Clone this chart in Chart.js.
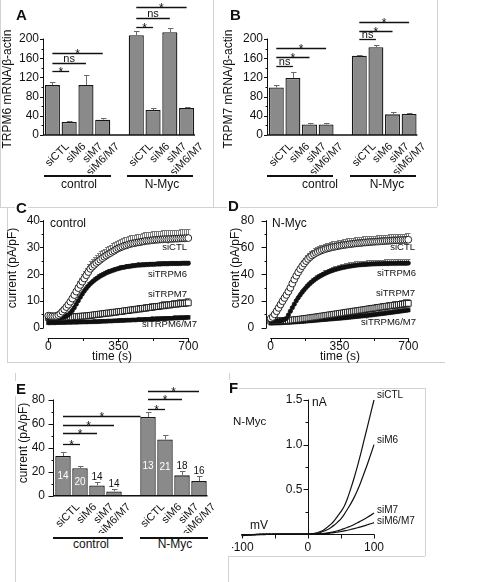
<!DOCTYPE html>
<html lang="en"><head><meta charset="utf-8"><title>TRPM6 / TRPM7 figure</title>
<script src="https://cdn.jsdelivr.net/npm/chart.js@4.4.1/dist/chart.umd.min.js"></script>
<style>
html,body{margin:0;padding:0;background:#fff;}
body{width:485px;height:582px;position:relative;overflow:hidden;font-family:"Liberation Sans",Arial,Helvetica,sans-serif;color:#111;}
canvas{position:absolute;}
.t{position:absolute;white-space:nowrap;font-size:12px;line-height:1;transform:translate(-50%,-50%);}
.r{transform:translate(-50%,-50%) rotate(-90deg);}
.lt{transform:translate(0,-50%);}
.rt{transform:translate(-100%,-50%);}
.s{font-size:9.5px;}
.m{font-size:10px;}
.L{position:absolute;font-weight:bold;font-size:15px;line-height:1;background:#fff;padding:0 1px;}
.bh{position:absolute;height:1px;background:#d2d2d2;}
.bv{position:absolute;width:1px;background:#d2d2d2;}
.gl{position:absolute;height:1.5px;background:#111;}
</style></head>
<body>
<!-- panel frames -->
<div class="bv" style="left:0;top:0;height:207px"></div>
<div class="bv" style="left:213px;top:0;height:207px"></div>
<div class="bv" style="left:437px;top:0;height:207px"></div>
<div class="bh" style="left:0;top:207px;width:437px"></div>
<div class="bv" style="left:7px;top:207px;height:155px"></div>
<div class="bh" style="left:7px;top:362px;width:438px"></div>
<div class="bv" style="left:15px;top:373px;height:209px"></div>
<div class="bv" style="left:229px;top:373px;height:10px"></div>
<div class="bh" style="left:238px;top:388px;width:187px"></div>
<div class="bv" style="left:425px;top:388px;height:168px"></div>
<div class="bh" style="left:228px;top:556px;width:197px"></div>
<div class="bv" style="left:228px;top:556px;height:26px"></div>

<canvas id="cA" width="213" height="174" style="left:0;top:0"></canvas>
<canvas id="cB" width="213" height="174" style="left:224px;top:0"></canvas>
<canvas id="cC" width="225" height="150" style="left:0;top:210px"></canvas>
<canvas id="cD" width="225" height="150" style="left:222px;top:210px"></canvas>
<canvas id="cE" width="210" height="150" style="left:10px;top:383px"></canvas>
<canvas id="cF" width="190" height="162" style="left:232px;top:392px"></canvas>

<!-- panel letters -->
<div class="L" style="left:15px;top:7px">A</div>
<div class="L" style="left:229px;top:7px">B</div>
<div class="L" style="left:15px;top:200px">C</div>
<div class="L" style="left:227px;top:198px">D</div>
<div class="L" style="left:15px;top:381px">E</div>
<div class="L" style="left:228px;top:380px">F</div>

<!-- axis titles -->
<div class="t r" style="left:7px;top:89px">TRPM6 mRNA/β-actin</div>
<div class="t r" style="left:228px;top:89px">TRPM7 mRNA/β-actin</div>
<div class="t r" style="left:12px;top:268px">current (pA/pF)</div>
<div class="t r" style="left:235px;top:268px">current (pA/pF)</div>
<div class="t r" style="left:23px;top:443px">current (pA/pF)</div>
<div class="t" style="left:112px;top:356px">time (s)</div>
<div class="t" style="left:340px;top:356px">time (s)</div>

<!-- group labels -->
<div class="gl" style="left:44px;top:175px;width:67px"></div>
<div class="gl" style="left:127px;top:175px;width:66px"></div>
<div class="t" style="left:79px;top:184px">control</div>
<div class="t" style="left:162px;top:184px">N-Myc</div>
<div class="gl" style="left:267px;top:175px;width:66px"></div>
<div class="gl" style="left:350px;top:175px;width:66px"></div>
<div class="t" style="left:320px;top:184px">control</div>
<div class="t" style="left:387px;top:184px">N-Myc</div>
<div class="gl" style="left:53px;top:537px;width:70px"></div>
<div class="gl" style="left:140px;top:537px;width:68px"></div>
<div class="t" style="left:91px;top:544px">control</div>
<div class="t" style="left:175px;top:544px">N-Myc</div>

<!-- C / D annotations -->
<div class="t lt" style="left:50px;top:223px">control</div>
<div class="t rt s" style="left:187px;top:247px">siCTL</div>
<div class="t rt s" style="left:187px;top:274px">siTRPM6</div>
<div class="t rt s" style="left:187px;top:294px">siTRPM7</div>
<div class="t rt s" style="left:197px;top:324px">siTRPM6/M7</div>
<div class="t lt" style="left:272px;top:223px">N-Myc</div>
<div class="t rt s" style="left:415px;top:247px">siCTL</div>
<div class="t rt s" style="left:416px;top:273px">siTRPM6</div>
<div class="t rt s" style="left:415px;top:293px">siTRPM7</div>
<div class="t rt s" style="left:416px;top:322px">siTRPM6/M7</div>

<!-- F annotations -->
<div class="t lt" style="left:233px;top:422px;font-size:11.5px">N-Myc</div>
<div class="t lt" style="left:312px;top:402px">nA</div>
<div class="t" style="left:259px;top:525px">mV</div>
<div class="t lt m" style="left:377px;top:395px">siCTL</div>
<div class="t lt m" style="left:377px;top:440px">siM6</div>
<div class="t lt m" style="left:377px;top:510px">siM7</div>
<div class="t lt m" style="left:377px;top:521px">siM6/M7</div>

<script>
// ================= DATA =================
const barCats = ['siCTL','siM6','siM7','siM6/M7','','siCTL','siM6','siM7','siM6/M7'];

// A: TRPM6 mRNA / beta-actin
const trpm6Control    = [104, 27, 104, 32];
const trpm6ControlSem = [6, 2, 21, 3];
const trpm6NMyc       = [208, 52, 214, 56];
const trpm6NMycSem    = [9, 4, 8, 3];
// B: TRPM7 mRNA / beta-actin
const trpm7Control    = [99, 119, 22, 22];
const trpm7ControlSem = [6, 12, 2, 2];
const trpm7NMyc       = [165, 183, 43, 44];
const trpm7NMycSem    = [1, 4, 4, 1];
// E: current density (pA/pF)
const curControl    = [33.2, 23, 8.6, 3.6];
const curControlSem = [3.6, 2, 3.1, 2.2];
const curNMyc       = [65.8, 47, 17, 12.2];
const curNMycSem    = [4.2, 4, 3.5, 4.2];
const nControl = [14, 20, 14, 14];
const nNMyc    = [13, 21, 18, 16];

const mrnaTicks = [0, 40, 80, 120, 160, 200];
const mrnaMinor = [20, 60, 100, 140, 180];
const curTicks  = [0, 20, 40, 60, 80];
const curMinor  = [10, 30, 50, 70];

// significance bars: [fromIndex, toIndex, level, text, endAtBarEdge]
const sigA = [[0,1,133,'*'],[0,2,150,'ns'],[0,3,171,'*'],[5,6,225,'*'],[5,7,244,'ns'],[5,8,267,'*']];
const sigB = [[0,1,144,'ns'],[0,2,163,'*'],[0,3,181,'*'],[5,6,199,'ns'],[5,7,217,'*'],[5,8,235,'*']];
const sigE = [[0,1,43,'*'],[0,2,52.2,'*'],[0,3,59,'*'],[0,5,66.9,'*',true],[5,6,72.2,'*'],[5,7,80.6,'*'],[5,8,87.8,'*']];

// C / D time courses (s)
const times = [0,10,20,30,40,50,60,70,80,90,100,110,120,130,140,150,160,170,180,190,200,210,220,230,240,250,260,270,280,290,300,310,320,330,340,350,360,370,380,390,400,410,420,430,440,450,460,470,480,490,500,510,520,530,540,550,560,570,580,590,600,610,620,630,640,650,660,670,680,690,700];
const timeTicks = [0, 350, 700];
const timeMinor = [175, 525];

const ctlSiCTL = [4.5,4.4,4.3,4.3,4.4,4.7,5.2,6.0,6.8,7.7, 8.6,9.7,10.9,12.2,13.5,14.8,16.0,17.2,18.4,19.6, 20.8,22.0,22.8,23.5,24.2,24.8,25.4,26.0,26.5,27.0, 27.5,27.9,28.4,28.8,29.3,29.7,30.0,30.3,30.6,30.8, 31.1,31.3,31.5,31.6,31.8,31.9,32.0,32.2,32.3,32.5, 32.5,32.6,32.7,32.8,32.9,32.9,33.0,33.0,33.1,33.1, 33.1,33.2,33.2,33.3,33.3,33.3,33.4,33.4,33.4,33.5,33.5];
const ctlSiCTLSem = [0.6,0.6,0.6,0.6,0.6,0.7,0.8,1.0,1.2,1.4, 1.6,1.8,2.0,2.2,2.4,2.5,2.6,2.7,2.8,2.9, 2.9,3.0,3.0,3.1,3.0,3.1,3.1,3.0,3.1,3.1, 3.0,3.1,3.1,3.1,3.1,3.1,3.2,3.1,3.2,3.2, 3.2,3.2,3.2,3.2,3.2,3.3,3.2,3.3,3.3,3.3, 3.3,3.3,3.3,3.3,3.3,3.3,3.3,3.4,3.3,3.4, 3.4,3.3,3.4,3.4,3.4,3.4,3.4,3.4,3.4,3.4,3.4];
const ctlSiM6 = [3.6,3.5,3.5,3.5,3.5,3.6,3.7,3.8,4.0,4.3, 4.8,5.5,6.4,7.5,8.8,10.1,11.4,12.6,13.7,14.7, 15.6,16.4,17.1,17.7,18.3,18.8,19.3,19.7,20.1,20.5, 20.8,21.1,21.4,21.6,21.9,22.1,22.3,22.5,22.6,22.8, 22.9,23.0,23.1,23.2,23.3,23.4,23.4,23.5,23.5,23.6, 23.6,23.7,23.7,23.7,23.8,23.8,23.8,23.9,23.9,23.9, 23.9,24.0,24.0,24.0,24.0,24.0,24.0,24.1,24.1,24.1,24.1];
const ctlSiM6Sem = [0.4,0.4,0.4,0.4,0.4,0.4,0.4,0.5,0.5,0.6, 0.7,0.8,0.9,1.0,1.1,1.2,1.2,1.3,1.3,1.3, 1.3,1.2,1.2,1.2,1.1,1.1,1.1,1.1,1.0,1.0, 1.0,0.9,1.0,1.0,0.9,1.0,1.0,0.9,1.0,1.0, 0.9,1.0,1.0,0.9,1.0,1.0,0.9,1.0,1.0,1.0, 0.9,1.0,1.0,1.0,0.9,1.0,1.0,1.0,0.9,1.0, 1.0,0.9,1.0,1.0,1.0,0.9,1.0,1.0,1.0,0.9,1.0];
const ctlSiM7 = [3.8,3.8,3.7,3.8,3.9,3.8,3.9,4.0,3.9,4.0, 4.0,4.1,4.0,4.1,4.2,4.1,4.3,4.3,4.4,4.4, 4.5,4.6,4.7,4.8,4.9,5.0,5.1,5.2,5.3,5.4, 5.5,5.5,5.7,5.8,5.8,6.0,6.1,6.1,6.3,6.4, 6.4,6.6,6.7,6.7,6.9,7.0,7.0,7.2,7.3,7.3, 7.5,7.6,7.6,7.8,7.9,7.9,8.1,8.2,8.2,8.4, 8.5,8.5,8.7,8.8,8.8,8.9,9.0,9.1,9.1,9.2,9.3];
const ctlSiM7Sem = [0.5,0.5,0.5,0.5,0.5,0.5,0.5,0.5,0.6,0.6, 0.6,0.6,0.6,0.6,0.7,0.7,0.7,0.7,0.7,0.8, 0.8,0.8,0.8,0.9,0.9,0.9,0.9,1.0,1.0,1.0, 1.0,1.0,1.1,1.1,1.1,1.1,1.2,1.2,1.2,1.2, 1.2,1.3,1.3,1.3,1.3,1.3,1.4,1.4,1.4,1.4, 1.4,1.5,1.5,1.5,1.5,1.5,1.5,1.6,1.6,1.6, 1.6,1.6,1.6,1.7,1.7,1.7,1.7,1.7,1.7,1.8,1.8];
const ctlSiM6M7 = [1.8,1.8,1.9,1.8,1.9,1.9,1.9,2.0,1.9,2.0, 2.0,2.0,2.0,2.1,2.0,2.1,2.1,2.1,2.2,2.1, 2.2,2.2,2.2,2.3,2.2,2.3,2.3,2.4,2.4,2.4, 2.5,2.5,2.5,2.6,2.6,2.6,2.7,2.7,2.7,2.8, 2.8,2.8,2.9,2.9,2.9,3.0,3.0,3.0,3.1,3.1, 3.1,3.2,3.2,3.2,3.3,3.3,3.3,3.4,3.4,3.4, 3.5,3.5,3.5,3.6,3.6,3.6,3.7,3.7,3.7,3.8,3.8];
const ctlSiM6M7Sem = [0.7,0.7,0.8,0.7,0.7,0.8,0.7,0.7,0.8,0.7, 0.7,0.8,0.7,0.7,0.8,0.7,0.7,0.8,0.7,0.8, 0.8,0.7,0.8,0.8,0.7,0.8,0.8,0.7,0.8,0.8, 0.8,0.8,0.9,0.8,0.8,0.9,0.8,0.8,0.9,0.8, 0.9,0.8,0.9,0.9,0.8,0.9,0.9,0.8,0.9,0.9, 0.9,0.9,1.0,0.9,0.9,1.0,0.9,1.0,1.0,0.9, 1.0,1.0,0.9,1.0,1.0,1.0,1.0,0.9,1.0,1.0,1.0];

const mycSiCTL = [7.0,8.0,10.0,12.3,14.8,17.3,19.8,22.2,24.5,27.0, 29.8,33.0,36.0,38.8,41.4,43.8,46.0,48.0,49.8,51.4, 52.8,54.0,55.0,55.9,56.6,57.3,57.9,58.4,58.9,59.3, 59.7,60.1,60.4,60.7,61.0,61.3,61.5,61.8,62.0,62.2, 62.4,62.6,62.8,63.0,63.1,63.3,63.4,63.6,63.7,63.8, 64.0,64.1,64.2,64.3,64.4,64.5,64.6,64.7,64.8,64.9, 65.0,65.1,65.2,65.3,65.3,65.4,65.5,65.6,65.6,65.7,65.8];
const mycSiCTLSem = [1.0,1.2,1.5,1.8,2.1,2.4,2.7,3.0,3.2,3.4, 3.6,3.8,3.9,4.0,4.0,4.1,4.1,4.1,4.2,4.2, 4.2,4.2,4.3,4.2,4.3,4.3,4.3,4.3,4.4,4.3, 4.4,4.4,4.3,4.4,4.4,4.4,4.4,4.5,4.4,4.5, 4.5,4.4,4.5,4.5,4.5,4.5,4.5,4.6,4.5,4.6, 4.6,4.5,4.6,4.6,4.6,4.6,4.6,4.6,4.7,4.6, 4.7,4.7,4.6,4.7,4.7,4.7,4.7,4.7,4.7,4.8,4.8];
const mycSiM6 = [4.8,4.8,4.9,4.9,5.0,5.2,5.6,6.2,7.0,9.5, 12.3,15.0,17.6,20.1,22.4,24.5,26.5,28.3,30.0,31.6, 33.0,34.3,35.5,36.6,37.6,38.5,39.3,40.1,40.8,41.5, 42.1,42.6,43.1,43.6,44.0,44.4,44.8,45.1,45.4,45.7, 46.0,46.2,46.4,46.6,46.8,47.0,47.1,47.2,47.3,47.4, 47.5,47.6,47.7,47.7,47.8,47.8,47.9,47.9,48.0,48.0, 48.0,48.1,48.1,48.1,48.1,48.2,48.2,48.2,48.2,48.2,48.3];
const mycSiM6Sem = [0.5,0.5,0.5,0.5,0.5,0.5,0.6,0.7,0.9,1.1, 1.3,1.5,1.7,1.9,2.0,2.1,2.2,2.3,2.4,2.4, 2.5,2.5,2.5,2.6,2.6,2.6,2.6,2.7,2.6,2.7, 2.7,2.7,2.7,2.7,2.8,2.7,2.8,2.8,2.8,2.8, 2.8,2.8,2.8,2.9,2.8,2.9,2.9,2.9,2.9,2.9, 2.9,2.9,2.9,3.0,2.9,3.0,3.0,3.0,3.0,3.0, 3.0,3.0,2.9,3.0,3.0,3.0,3.1,3.0,3.0,3.0,3.0];
const mycSiM7 = [5.0,5.0,5.1,5.0,5.1,5.2,5.2,5.3,5.4,5.4, 5.6,5.7,5.9,6.0,6.2,6.4,6.5,6.8,7.0,7.1, 7.4,7.5,7.8,8.0,8.1,8.4,8.7,8.8,9.1,9.3, 9.6,9.7,10.0,10.2,10.4,10.7,10.9,11.0,11.4,11.6, 11.8,11.9,12.3,12.5,12.6,12.9,13.2,13.3,13.6,13.8, 14.1,14.2,14.5,14.7,14.8,15.2,15.4,15.5,15.8,16.0, 16.2,16.3,16.6,16.8,16.9,17.2,17.4,17.5,17.8,18.0,18.2];
const mycSiM7Sem = [1.0,1.0,1.0,1.1,1.0,1.1,1.1,1.1,1.2,1.1, 1.2,1.2,1.2,1.3,1.3,1.3,1.4,1.4,1.4,1.5, 1.5,1.5,1.6,1.6,1.6,1.7,1.7,1.7,1.8,1.8, 1.8,1.9,1.9,1.9,2.0,2.0,2.0,2.1,2.1,2.1, 2.2,2.2,2.2,2.3,2.3,2.4,2.4,2.4,2.5,2.5, 2.5,2.6,2.6,2.7,2.7,2.7,2.8,2.8,2.9,2.9, 2.9,3.0,3.0,3.1,3.1,3.1,3.2,3.2,3.3,3.3,3.4];
const mycSiM6M7 = [3.3,3.4,3.4,3.5,3.5,3.6,3.7,3.8,3.9,3.9, 4.0,4.1,4.2,4.3,4.4,4.5,4.6,4.7,4.9,5.0, 5.1,5.2,5.4,5.5,5.6,5.8,5.9,6.0,6.1,6.3, 6.4,6.5,6.6,6.8,6.9,7.0,7.1,7.3,7.4,7.6, 7.7,7.9,8.0,8.2,8.3,8.5,8.6,8.8,8.9,9.1, 9.3,9.4,9.6,9.8,10.0,10.2,10.3,10.5,10.7,10.9, 11.1,11.3,11.5,11.7,11.9,12.1,12.3,12.5,12.7,12.9,13.1];
const mycSiM6M7Sem = [0.8,0.8,0.8,0.8,0.9,0.9,0.9,0.9,0.9,1.0, 1.0,1.0,1.0,1.0,1.1,1.1,1.1,1.1,1.2,1.2, 1.2,1.2,1.3,1.3,1.3,1.3,1.4,1.4,1.4,1.4, 1.5,1.5,1.5,1.5,1.6,1.6,1.6,1.7,1.7,1.7, 1.7,1.8,1.8,1.8,1.9,1.9,1.9,1.9,2.0,2.0, 2.0,2.1,2.1,2.1,2.1,2.2,2.2,2.2,2.3,2.3, 2.3,2.3,2.4,2.4,2.4,2.5,2.5,2.5,2.5,2.6,2.6];

const ctlCurTicks = [0, 10, 20, 30, 40];
const ctlCurMinor = [5, 15, 25, 35];
const mycCurTicks = [0, 20, 40, 60, 80];
const mycCurMinor = [10, 30, 50, 70];

// F: I-V relations, N-Myc cells (mV, nA)
const ivVoltage = [-100,-95,-90,-85,-80,-75,-70,-65,-60,-55,-50,-45,-40,-35,-30,-25,-20,-15,-10,-5,0,5,10,15,20,25,30,35,40,45,50,55,60,65,70,75,80,85,90,95,100];
const ivSiCTL = [-0.020,-0.016,-0.013,-0.011,-0.009,-0.008,-0.006,-0.006,-0.004,-0.005,-0.003,-0.003,-0.002,-0.002,-0.001,-0.001,-0.001,0,0,0, 0, 0.003,0.008,0.017,0.030,0.050,0.080,0.110,0.150,0.200,0.250,0.310,0.400,0.510,0.630,0.760,0.900,1.050,1.200,1.350,1.500];
const ivSiM6 = [-0.016,-0.013,-0.011,-0.009,-0.008,-0.006,-0.005,-0.004,-0.004,-0.003,-0.003,-0.002,-0.002,-0.001,-0.001,-0.001,0,0,0,0, 0, 0.002,0.005,0.010,0.020,0.033,0.050,0.073,0.100,0.133,0.170,0.220,0.280,0.340,0.410,0.490,0.580,0.680,0.780,0.890,1.000];
const ivSiM7 = [-0.012,-0.010,-0.008,-0.007,-0.006,-0.005,-0.004,-0.004,-0.003,-0.003,-0.002,-0.002,-0.001,-0.001,-0.001,0,0,0,0,0, 0, 0.001,0.002,0.003,0.005,0.008,0.012,0.018,0.026,0.036,0.048,0.060,0.075,0.090,0.107,0.125,0.145,0.165,0.187,0.210,0.235];
const ivSiM6M7 = [-0.010,-0.008,-0.007,-0.006,-0.005,-0.004,-0.004,-0.003,-0.003,-0.002,-0.002,-0.002,-0.001,-0.001,-0.001,0,0,0,0,0, 0, 0.001,0.001,0.002,0.003,0.005,0.008,0.012,0.016,0.022,0.028,0.035,0.042,0.050,0.060,0.070,0.080,0.091,0.103,0.115,0.128];
const ivXTicks = [-100, -50, 0, 50, 100];
const ivXLabels = [-100, 0, 100];
const ivYTicks = [0.5, 1.0, 1.5];
const ivYMinor = [0.25, 0.75, 1.25];

// ================= RENDERING =================
const FONT = "'Liberation Sans', Arial, Helvetica, sans-serif";
Chart.defaults.font.family = FONT;
Chart.defaults.color = '#111';

function P(v){ return Math.round(v) + 0.5; }
function seg(ctx, x1, y1, x2, y2){ ctx.beginPath(); ctx.moveTo(x1, y1); ctx.lineTo(x2, y2); ctx.stroke(); }
const base = { animation:false, responsive:false, events:[], plugins:{legend:{display:false}, tooltip:{enabled:false}} };

function barPlugin(o){
  return { id:'barDeco', afterDatasetsDraw(chart){
    const {ctx, chartArea:ca, scales:{x, y}} = chart;
    const vals = chart.data.datasets[0].data;
    ctx.save();
    ctx.strokeStyle = '#6a6a6a'; ctx.lineWidth = 1;
    vals.forEach((v, i) => {
      if (v == null) return;
      const cx = P(x.getPixelForValue(i));
      const yt = P(y.getPixelForValue(v + o.sem[i]));
      seg(ctx, cx, y.getPixelForValue(v), cx, yt);
      seg(ctx, cx - 2.5, yt, cx + 3, yt);
    });
    ctx.strokeStyle = '#111';
    const ax = P(ca.left - 1.2), y0 = y.getPixelForValue(0);
    seg(ctx, ax, y0, ax, y.getPixelForValue(o.ticks[o.ticks.length - 1]) - 0.5);
    o.ticks.forEach(v => { const yy = P(y.getPixelForValue(v)); seg(ctx, ax - o.tl, yy, ax, yy); });
    o.minor.forEach(v => { const yy = P(y.getPixelForValue(v)); seg(ctx, ax - 2, yy, ax, yy); });
    ctx.lineWidth = 1.6; seg(ctx, ax - 0.5, y0, ca.right, y0);
    ctx.fillStyle = '#111'; ctx.textAlign = 'center'; ctx.textBaseline = 'alphabetic';
    o.sig.forEach(([a, b, lvl, txt, edge]) => {
      const x1 = x.getPixelForValue(a);
      let x2 = x.getPixelForValue(b);
      if (edge) x2 -= 7.5;
      const yy = P(y.getPixelForValue(lvl));
      ctx.lineWidth = 1.3; seg(ctx, x1, yy, x2, yy);
      if (txt === '*') { ctx.font = '12px ' + FONT; ctx.fillText(txt, (x1 + x2) / 2, yy + 4); }
      else { ctx.font = '11px ' + FONT; ctx.fillText(txt, (x1 + x2) / 2, yy - 2); }
    });
    if (o.n) {
      ctx.font = '10px ' + FONT;
      vals.forEach((v, i) => {
        if (v == null) return;
        const cx = x.getPixelForValue(i);
        if (v > 20) { ctx.fillStyle = '#fff'; ctx.textBaseline = 'middle'; ctx.fillText(String(o.n[i]), cx, y.getPixelForValue(Math.min(v * 0.5, 25))); }
        else { ctx.fillStyle = '#111'; ctx.textBaseline = 'alphabetic'; ctx.fillText(String(o.n[i]), cx, y.getPixelForValue(v + o.sem[i]) - 2); }
      });
    }
    ctx.restore();
  }};
}

function makeBar(id, ctl, myc, ctlSem, mycSem, c){
  const vals = [...ctl, null, ...myc];
  const sem = [...ctlSem, 0, ...mycSem];
  const n = c.nCtl ? [...c.nCtl, null, ...c.nMyc] : null;
  new Chart(document.getElementById(id), {
    type:'bar',
    data:{ labels: barCats, datasets:[{ data: vals, backgroundColor:'#8a8a8a', borderColor:'#161616', borderWidth:1.3, barPercentage:c.bp, categoryPercentage:1 }] },
    options:{ ...base, layout:{ padding:c.pad },
      scales:{
        x:{ grid:{display:false, drawTicks:false}, border:{display:false},
            ticks:{ autoSkip:false, minRotation:45, maxRotation:45, padding:5, labelOffset:15, font:{size:11} },
            afterFit(s){ s.height = c.xH; s.paddingLeft = 0; s.paddingRight = 0; } },
        y:{ min:0, max:c.yMax, grid:{display:false, drawTicks:false}, border:{display:false},
            ticks:{ padding:c.yPad, font:{size:12} },
            afterBuildTicks(s){ s.ticks = c.ticks.map(v => ({value:v})); },
            afterFit(s){ s.width = c.yW; s.paddingTop = 0; s.paddingBottom = 0; } }
      } },
    plugins:[ barPlugin({ sem, ticks:c.ticks, minor:c.minor, tl:c.tl, sig:c.sig, n }) ]
  });
}

makeBar('cA', trpm6Control, trpm6NMyc, trpm6ControlSem, trpm6NMycSem,
  { pad:{left:0, top:1, right:18, bottom:0}, xH:39, yW:44, yMax:279.2, yPad:5, ticks:mrnaTicks, minor:mrnaMinor, tl:3.5, sig:sigA, bp:0.9 });
makeBar('cB', trpm7Control, trpm7NMyc, trpm7ControlSem, trpm7NMycSem,
  { pad:{left:0, top:1, right:19.6, bottom:0}, xH:39, yW:44, yMax:279.2, yPad:5, ticks:mrnaTicks, minor:mrnaMinor, tl:3.5, sig:sigB, bp:0.9 });
makeBar('cE', curControl, curNMyc, curControlSem, curNMycSem,
  { pad:{left:0, top:3, right:12.5, bottom:0}, xH:37.3, yW:44.5, yMax:91.7, yPad:9.5, ticks:curTicks, minor:curMinor, tl:5, sig:sigE, bp:0.91, nCtl:nControl, nMyc:nNMyc });

const xy = (xs, ys) => xs.map((x, i) => ({x, y: ys[i]}));
function timePlugin(o){
  return { id:'timeDeco',
    beforeDatasetsDraw(chart){
      const {ctx, scales:{x, y}} = chart;
      ctx.save(); ctx.strokeStyle = '#707070'; ctx.lineWidth = 0.9;
      o.sems.forEach((sem, k) => {
        const vals = o.series[k];
        times.forEach((t, i) => {
          const cx = P(x.getPixelForValue(t));
          const y1 = y.getPixelForValue(vals[i]), y2 = P(y.getPixelForValue(vals[i] + sem[i]));
          seg(ctx, cx, y1, cx, y2); seg(ctx, cx - 1.5, y2, cx + 2, y2);
        });
      });
      ctx.restore();
    },
    afterDatasetsDraw(chart){
      const {ctx, chartArea:ca, scales:{x, y}} = chart;
      ctx.save(); ctx.strokeStyle = '#111'; ctx.lineWidth = 1;
      const ax = P(ca.left - o.yOff);
      seg(ctx, ax, y.getPixelForValue(0) + 0.5, ax, y.getPixelForValue(o.yTicks[o.yTicks.length - 1]) - 0.5);
      o.yTicks.forEach(v => { const yy = P(y.getPixelForValue(v)); seg(ctx, ax - o.tl, yy, ax, yy); });
      o.yMinor.forEach(v => { const yy = P(y.getPixelForValue(v)); seg(ctx, ax - 2, yy, ax, yy); });
      const ay = P(ca.bottom + o.xOff);
      seg(ctx, x.getPixelForValue(0) - 0.5, ay, x.getPixelForValue(700) + 0.5, ay);
      timeTicks.forEach(v => { const xx = P(x.getPixelForValue(v)); seg(ctx, xx, ay, xx, ay + 4); });
      timeMinor.forEach(v => { const xx = P(x.getPixelForValue(v)); seg(ctx, xx, ay, xx, ay + 2.5); });
      ctx.restore();
    }
  };
}
function makeTime(id, series, sems, c){
  const styles = [
    { pointStyle:'circle', pointRadius:3.4, pointBackgroundColor:'#fff', pointBorderColor:'#111', pointBorderWidth:0.9 },
    { pointStyle:'circle', pointRadius:2.2, pointBackgroundColor:'#111', pointBorderColor:'#111', pointBorderWidth:0.6 },
    { pointStyle:'rect', pointRadius:4.1, pointBackgroundColor:'#fff', pointBorderColor:'#111', pointBorderWidth:0.9 },
    { pointStyle:'rect', pointRadius:2.6, pointBackgroundColor:'#111', pointBorderColor:'#111', pointBorderWidth:0.5 }
  ];
  new Chart(document.getElementById(id), {
    type:'scatter',
    data:{ datasets: series.map((s, k) => ({ data: xy(times, s), showLine:false, clip:false, ...styles[k] })) },
    options:{ ...base, layout:{ padding:c.pad },
      scales:{
        x:{ type:'linear', min:0, max:700, grid:{display:false, drawTicks:false}, border:{display:false},
            ticks:{ padding:12, font:{size:12}, maxRotation:0 },
            afterBuildTicks(s){ s.ticks = timeTicks.map(v => ({value:v})); },
            afterFit(s){ s.height = c.xH; s.paddingLeft = 0; s.paddingRight = 0; } },
        y:{ min:0, max:c.yMax, grid:{display:false, drawTicks:false}, border:{display:false},
            ticks:{ padding:c.yPad, font:{size:12} },
            afterBuildTicks(s){ s.ticks = c.yTicks.map(v => ({value:v})); },
            afterFit(s){ s.width = c.yW; s.paddingTop = 0; s.paddingBottom = 0; } }
      } },
    plugins:[ timePlugin({ series, sems, yTicks:c.yTicks, yMinor:c.yMinor, tl:c.tl, yOff:c.yOff, xOff:10.6 }) ]
  });
}
makeTime('cC', [ctlSiCTL, ctlSiM6, ctlSiM7, ctlSiM6M7], [ctlSiCTLSem, ctlSiM6Sem, ctlSiM7Sem, ctlSiM6M7Sem],
  { pad:{left:0, top:10.7, right:36.7, bottom:0}, xH:32.3, yW:48.3, yMax:40, yPad:8.3, yTicks:ctlCurTicks, yMinor:ctlCurMinor, tl:3.5, yOff:5 });
makeTime('cD', [mycSiCTL, mycSiM6, mycSiM7, mycSiM6M7], [mycSiCTLSem, mycSiM6Sem, mycSiM7Sem, mycSiM6M7Sem],
  { pad:{left:0, top:10.7, right:38.7, bottom:0}, xH:32.3, yW:48.7, yMax:80, yPad:16.5, yTicks:mycCurTicks, yMinor:mycCurMinor, tl:5, yOff:4.7 });

const ivPlugin = { id:'ivDeco', beforeDatasetsDraw(chart){
  const {ctx, scales:{x, y}} = chart;
  ctx.save(); ctx.strokeStyle = '#111'; ctx.fillStyle = '#111'; ctx.lineWidth = 1;
  const x0 = P(x.getPixelForValue(0)), y0 = P(y.getPixelForValue(0));
  seg(ctx, x.getPixelForValue(-100) - 0.5, y0, x.getPixelForValue(100) + 0.5, y0);
  ivXTicks.forEach(v => { const xx = P(x.getPixelForValue(v)); seg(ctx, xx, y0, xx, y0 + 4); });
  ctx.font = '12px ' + FONT; ctx.textAlign = 'center'; ctx.textBaseline = 'middle';
  ivXLabels.forEach(v => ctx.fillText(String(v), x.getPixelForValue(v), y0 + 13));
  seg(ctx, x0, y0, x0, y.getPixelForValue(1.5) - 0.5);
  ivYTicks.forEach(v => { const yy = P(y.getPixelForValue(v)); seg(ctx, x0 - 5, yy, x0, yy); });
  ivYMinor.forEach(v => { const yy = P(y.getPixelForValue(v)); seg(ctx, x0 - 3, yy, x0, yy); });
  ctx.textAlign = 'right';
  ivYTicks.forEach(v => ctx.fillText(v.toFixed(1), x0 - 6, y.getPixelForValue(v)));
  ctx.restore();
}};
new Chart(document.getElementById('cF'), {
  type:'scatter',
  data:{ datasets: [ivSiCTL, ivSiM6, ivSiM7, ivSiM6M7].map(s => ({ data: xy(ivVoltage, s), showLine:true, borderColor:'#111', borderWidth:1.2, pointRadius:0, cubicInterpolationMode:'monotone', clip:false })) },
  options:{ ...base, layout:{ padding:{left:9.7, top:8, right:48, bottom:20} },
    scales:{ x:{ type:'linear', min:-100, max:100, display:false }, y:{ min:0, max:1.5, display:false } } },
  plugins:[ ivPlugin ]
});
</script>
</body></html>
